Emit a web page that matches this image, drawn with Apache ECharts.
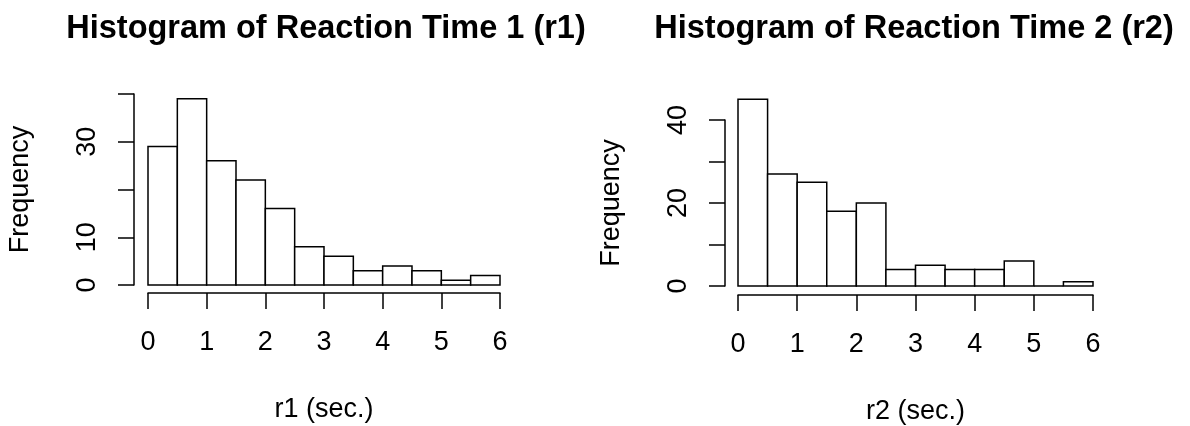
<!DOCTYPE html>
<html>
<head>
<meta charset="utf-8">
<script src="https://cdn.jsdelivr.net/npm/echarts@6/dist/echarts.min.js"></script>
<style>
  html, body { margin: 0; padding: 0; background: #fff; }
  #chart { width: 1190px; height: 426px; }
</style>
</head>
<body>
<div id="chart"></div>
<script>
// histogram bins (sec.), shared by both panels
var binEdges = [0, 0.5, 1, 1.5, 2, 2.5, 3, 3.5, 4, 4.5, 5, 5.5, 6];
var counts1 = [29, 39, 26, 22, 16, 8, 6, 3, 4, 3, 1, 2];
var counts2 = [45, 27, 25, 18, 20, 4, 5, 4, 4, 6, 0, 1];

var xTicks = [0, 1, 2, 3, 4, 5, 6];
var yShown1 = [0, 10, 30];   // labels R kept on the left panel
var yShown2 = [0, 20, 40];   // labels R kept on the right panel

var titles = ["Histogram of Reaction Time 1 (r1)", "Histogram of Reaction Time 2 (r2)"];
var xNames = ["r1 (sec.)", "r2 (sec.)"];

var FONT = "'Liberation Sans', Arial, sans-serif";
var LW = 1.5;

function toBins(counts) {
    var out = [];
    for (var i = 0; i < counts.length; i++) {
        out.push([binEdges[i], binEdges[i + 1], counts[i]]);
    }
    return out;
}

function renderBar(params, api) {
    var top = api.coord([api.value(0), api.value(2)]);
    var bottom = api.coord([api.value(1), 0]);
    return {
        type: "rect",
        shape: { x: top[0], y: top[1], width: bottom[0] - top[0], height: bottom[1] - top[1] },
        style: { fill: "#fff", stroke: "#000", lineWidth: LW }
    };
}

function xAxisFor(idx) {
    return {
        type: "value", gridIndex: idx, min: 0, max: 6, interval: 1,
        offset: idx === 0 ? 8 : 9,
        name: xNames[idx], nameLocation: "middle", nameGap: 103,
        nameTextStyle: { fontFamily: FONT, fontSize: 27, color: "#000" },
        axisLine: { onZero: false, lineStyle: { color: "#000", width: LW } },
        axisTick: { length: 16, lineStyle: { color: "#000", width: LW } },
        axisLabel: { margin: 36, fontFamily: FONT, fontSize: 27, color: "#000",
            formatter: function (v) { return xTicks.indexOf(v) >= 0 ? String(v) : ""; } },
        splitLine: { show: false }
    };
}

function yAxisFor(idx, shown) {
    return {
        type: "value", gridIndex: idx, min: 0, max: 40, interval: 10,
        offset: idx === 0 ? 14 : 13,
        name: "Frequency", nameLocation: "middle", nameGap: 100, nameRotate: 90,
        nameTextStyle: { fontFamily: FONT, fontSize: 27, color: "#000" },
        axisLine: { show: true, onZero: false, lineStyle: { color: "#000", width: LW } },
        axisTick: { show: true, length: 16, lineStyle: { color: "#000", width: LW } },
        axisLabel: { rotate: 90, margin: 33, fontFamily: FONT, fontSize: 27, color: "#000",
            showMinLabel: true, showMaxLabel: true,
            formatter: function (v) { return shown.indexOf(v) >= 0 ? String(v) : ""; } },
        splitLine: { show: false }
    };
}

var chart = echarts.init(document.getElementById("chart"));
chart.setOption({
    animation: false,
    backgroundColor: "#fff",
    title: [
        { text: titles[0], left: 321, top: 8, textAlign: "center",
          textStyle: { fontFamily: FONT, fontSize: 32.5, fontWeight: "bold", color: "#000" } },
        { text: titles[1], left: 909, top: 8, textAlign: "center",
          textStyle: { fontFamily: FONT, fontSize: 32.5, fontWeight: "bold", color: "#000" } }
    ],
    grid: [
        { left: 148, right: 690, top: 94, height: 191 },
        { left: 738, right: 97, top: 120, height: 166 }
    ],
    xAxis: [xAxisFor(0), xAxisFor(1)],
    yAxis: [yAxisFor(0, yShown1), yAxisFor(1, yShown2)],
    series: [
        { type: "custom", xAxisIndex: 0, yAxisIndex: 0, clip: false,
          renderItem: renderBar, encode: { x: [0, 1], y: 2 }, data: toBins(counts1) },
        { type: "custom", xAxisIndex: 1, yAxisIndex: 1, clip: false,
          renderItem: renderBar, encode: { x: [0, 1], y: 2 }, data: toBins(counts2) }
    ]
});
</script>
</body>
</html>
